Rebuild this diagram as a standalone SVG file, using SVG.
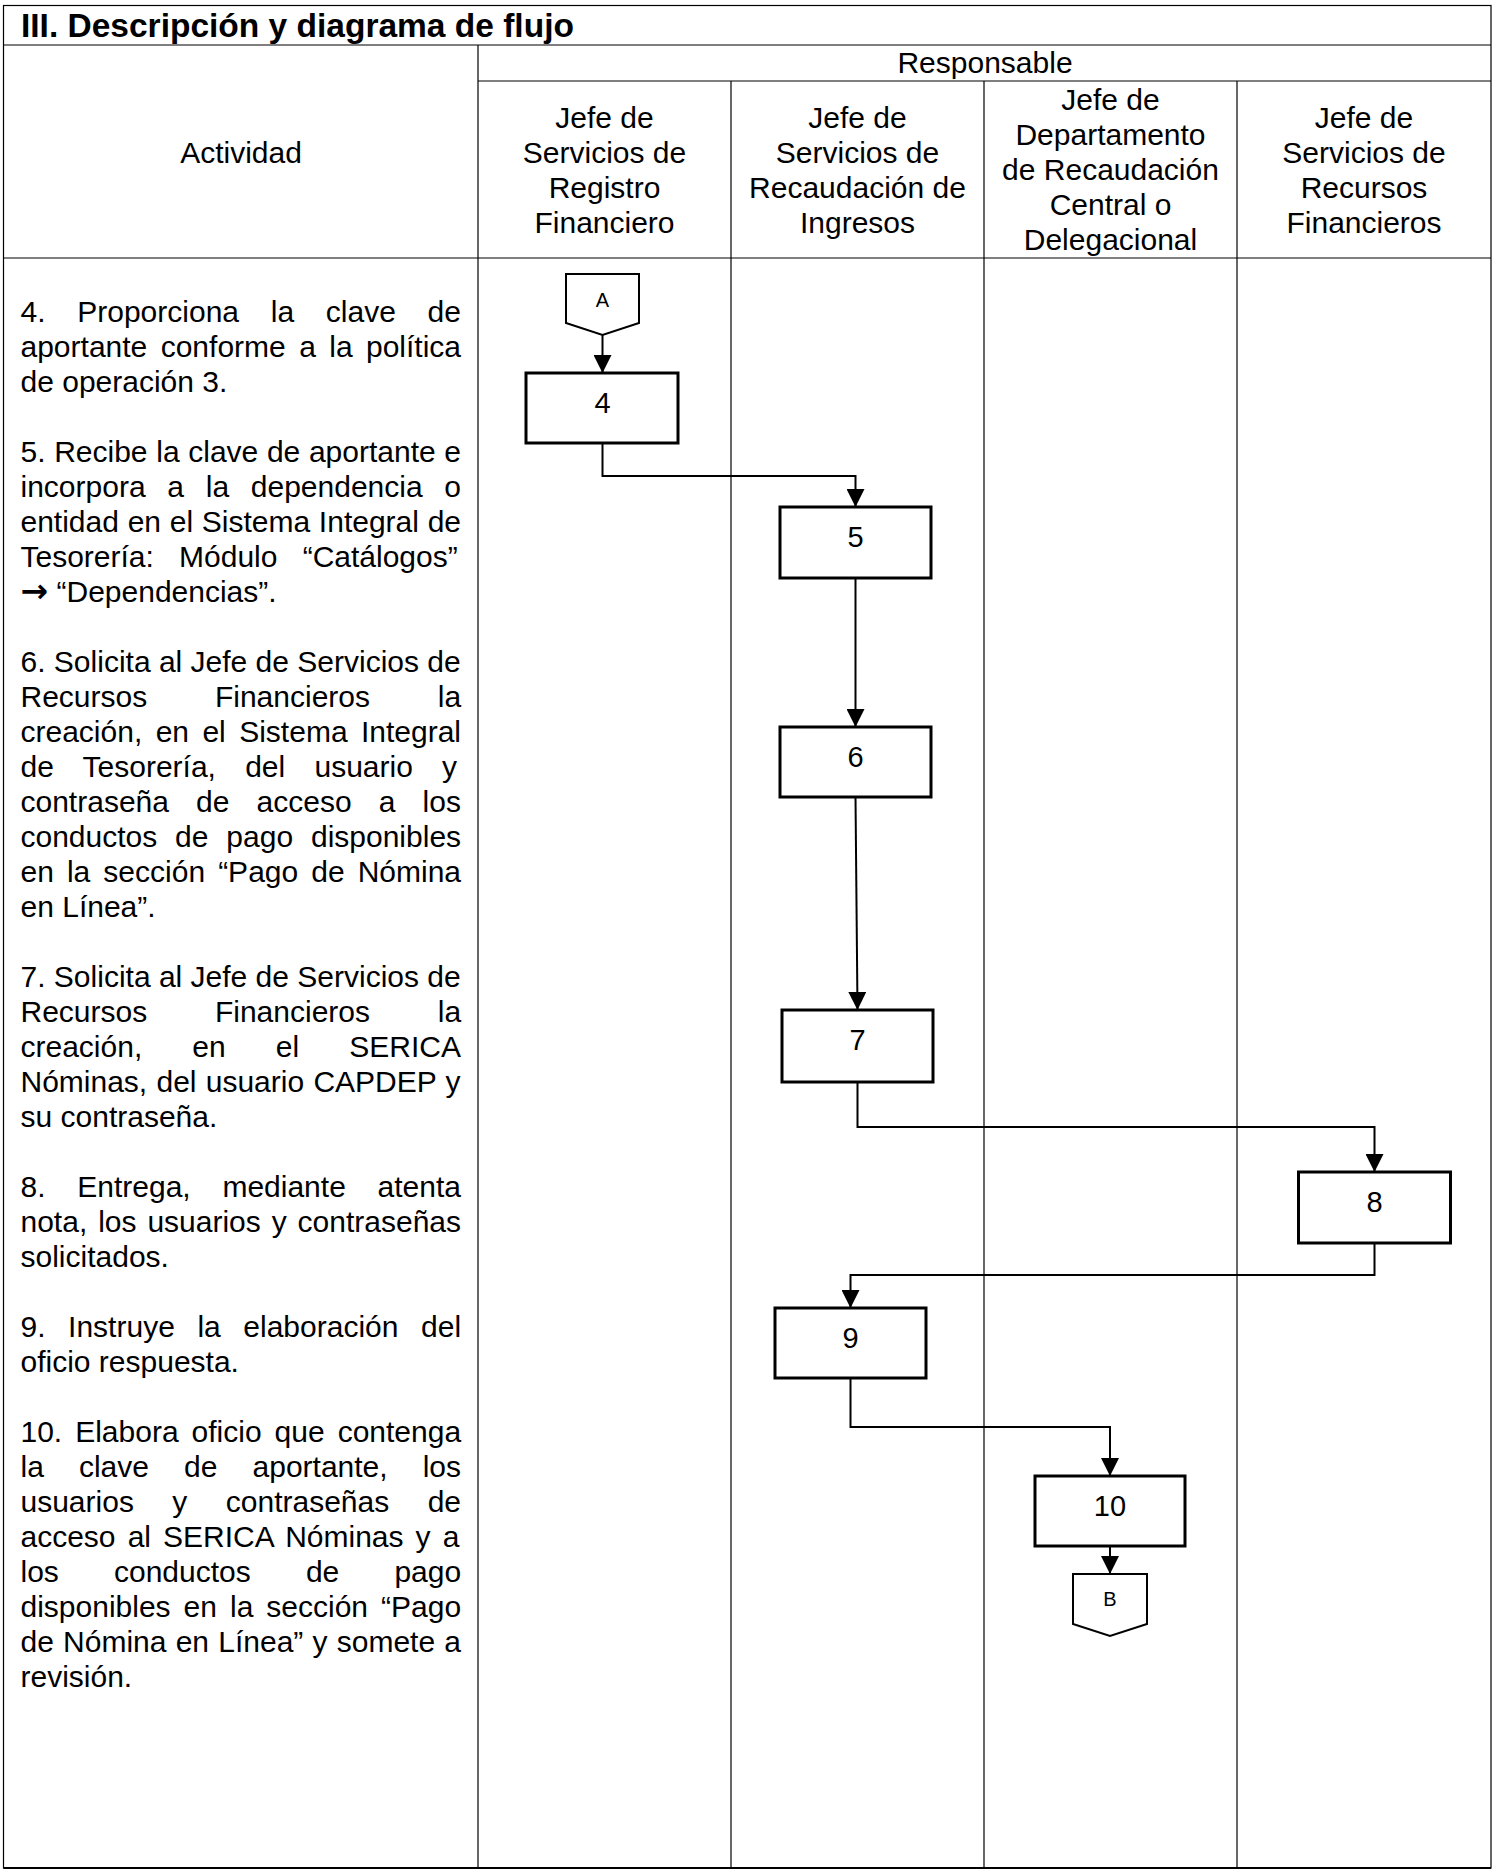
<svg xmlns="http://www.w3.org/2000/svg" width="1495" height="1874" viewBox="0 0 1495 1874">
<style>
text{font-family:"Liberation Sans",Arial,sans-serif;fill:#000}
.t{font-size:30px}
.c{font-size:30px;text-anchor:middle}
.ttl{font-size:33.5px;font-weight:bold}
.n{font-size:29px;text-anchor:middle}
.k{font-size:20px;text-anchor:middle}
.g{stroke:#000;stroke-width:1.2;fill:none}
.box{fill:#fff;stroke:#000;stroke-width:3}
.off{fill:#fff;stroke:#000;stroke-width:2}
.cn{fill:none;stroke:#000;stroke-width:2;marker-end:url(#ah)}
</style>
<defs>
<marker id="ah" markerUnits="userSpaceOnUse" markerWidth="18" markerHeight="18" viewBox="0 0 18 18" refX="18" refY="9" orient="auto">
<path d="M0,0 L18,9 L0,18 z" fill="#000"/>
</marker>
</defs>
<rect width="1495" height="1874" fill="#fff"/>
<g id="table">
<rect class="g" x="3.5" y="5.5" width="1487.5" height="1862.5"/>
<line class="g" x1="3.5" y1="45" x2="1491" y2="45"/>
<line class="g" x1="478" y1="45" x2="478" y2="1868"/>
<line class="g" x1="478" y1="81" x2="1491" y2="81"/>
<line class="g" x1="731" y1="81" x2="731" y2="1868"/>
<line class="g" x1="984" y1="81" x2="984" y2="1868"/>
<line class="g" x1="1237" y1="81" x2="1237" y2="1868"/>
<line class="g" x1="3.5" y1="258" x2="1491" y2="258"/>
<line x1="3.5" y1="1868" x2="1491" y2="1868" stroke="#000" stroke-width="2.2"/>
<text class="ttl" x="21" y="37">III. Descripción y diagrama de flujo</text>
<text class="c" x="985" y="73">Responsable</text>
<text class="c" x="241" y="163">Actividad</text>
<text class="c" x="604.5" y="128">Jefe de</text>
<text class="c" x="604.5" y="163">Servicios de</text>
<text class="c" x="604.5" y="198">Registro</text>
<text class="c" x="604.5" y="233">Financiero</text>
<text class="c" x="857.5" y="128">Jefe de</text>
<text class="c" x="857.5" y="163">Servicios de</text>
<text class="c" x="857.5" y="198">Recaudación de</text>
<text class="c" x="857.5" y="233">Ingresos</text>
<text class="c" x="1110.5" y="110">Jefe de</text>
<text class="c" x="1110.5" y="145">Departamento</text>
<text class="c" x="1110.5" y="180">de Recaudación</text>
<text class="c" x="1110.5" y="215">Central o</text>
<text class="c" x="1110.5" y="250">Delegacional</text>
<text class="c" x="1364" y="128">Jefe de</text>
<text class="c" x="1364" y="163">Servicios de</text>
<text class="c" x="1364" y="198">Recursos</text>
<text class="c" x="1364" y="233">Financieros</text>
</g>
<g id="actividades">
<text class="t" x="20.5" y="322" word-spacing="23.4">4. Proporciona la clave de</text>
<text class="t" x="20.5" y="357" word-spacing="5.07">aportante conforme a la política</text>
<text class="t" x="20.5" y="392">de operación 3.</text>
<text class="t" x="20.5" y="462" word-spacing="0.32">5. Recibe la clave de aportante e</text>
<text class="t" x="20.5" y="497" word-spacing="13.4">incorpora a la dependencia o</text>
<text class="t" x="20.5" y="532" word-spacing="0.38">entidad en el Sistema Integral de</text>
<text class="t" x="20.5" y="567" word-spacing="16.85">Tesorería: Módulo “Catálogos”</text>
<text class="t" x="20.5" y="602"><tspan font-family="'DejaVu Sans',sans-serif" font-size="33" font-weight="bold">→</tspan> “Dependencias”.</text>
<text class="t" x="20.5" y="672">6. Solicita al Jefe de Servicios de</text>
<text class="t" x="20.5" y="707" word-spacing="59.4">Recursos Financieros la</text>
<text class="t" x="20.5" y="742" word-spacing="5.08">creación, en el Sistema Integral</text>
<text class="t" x="20.5" y="777" word-spacing="20.9">de Tesorería, del usuario y</text>
<text class="t" x="20.5" y="812" word-spacing="18.8">contraseña de acceso a los</text>
<text class="t" x="20.5" y="847" word-spacing="9.53">conductos de pago disponibles</text>
<text class="t" x="20.5" y="882" word-spacing="4.73">en la sección “Pago de Nómina</text>
<text class="t" x="20.5" y="917">en Línea”.</text>
<text class="t" x="20.5" y="987">7. Solicita al Jefe de Servicios de</text>
<text class="t" x="20.5" y="1022" word-spacing="59.4">Recursos Financieros la</text>
<text class="t" x="20.5" y="1057" word-spacing="41.8">creación, en el SERICA</text>
<text class="t" x="20.5" y="1092" word-spacing="0.92">Nóminas, del usuario CAPDEP y</text>
<text class="t" x="20.5" y="1127">su contraseña.</text>
<text class="t" x="20.5" y="1197" word-spacing="23.4">8. Entrega, mediante atenta</text>
<text class="t" x="20.5" y="1232" word-spacing="2.57">nota, los usuarios y contraseñas</text>
<text class="t" x="20.5" y="1267">solicitados.</text>
<text class="t" x="20.5" y="1337" word-spacing="14.25">9. Instruye la elaboración del</text>
<text class="t" x="20.5" y="1372">oficio respuesta.</text>
<text class="t" x="20.5" y="1442" word-spacing="4.65">10. Elabora oficio que contenga</text>
<text class="t" x="20.5" y="1477" word-spacing="26.75">la clave de aportante, los</text>
<text class="t" x="20.5" y="1512" word-spacing="30.1">usuarios y contraseñas de</text>
<text class="t" x="20.5" y="1547" word-spacing="3.74">acceso al SERICA Nóminas y a</text>
<text class="t" x="20.5" y="1582" word-spacing="46.8">los conductos de pago</text>
<text class="t" x="20.5" y="1617" word-spacing="4.66">disponibles en la sección “Pago</text>
<text class="t" x="20.5" y="1652" word-spacing="0.88">de Nómina en Línea” y somete a</text>
<text class="t" x="20.5" y="1687">revisión.</text>
</g>
<g id="connectors">
<path class="cn" d="M602.5,335 V373"/>
<path class="cn" d="M602.5,443 V476 H855.5 V507"/>
<path class="cn" d="M855.5,578 V727"/>
<path class="cn" d="M855.5,797 L857.5,1010"/>
<path class="cn" d="M857.5,1082 V1127 H1374.5 V1172"/>
<path class="cn" d="M1374.5,1243 V1275 H850.5 V1308"/>
<path class="cn" d="M850.5,1378 V1427 H1110 V1476"/>
<path class="cn" d="M1110,1546 V1574"/>
</g>
<g id="node-A">
<polygon class="off" points="566,274 639,274 639,323 602.5,335 566,323"/>
<text class="k" x="602.5" y="307">A</text>
</g>
<g id="node-4">
<rect class="box" x="526" y="373" width="152" height="70"/>
<text class="n" x="602.5" y="413">4</text>
</g>
<g id="node-5">
<rect class="box" x="780" y="507" width="151" height="71"/>
<text class="n" x="855.5" y="547">5</text>
</g>
<g id="node-6">
<rect class="box" x="780" y="727" width="151" height="70"/>
<text class="n" x="855.5" y="767">6</text>
</g>
<g id="node-7">
<rect class="box" x="782" y="1010" width="151" height="72"/>
<text class="n" x="857.5" y="1050">7</text>
</g>
<g id="node-8">
<rect class="box" x="1298.5" y="1172" width="152" height="71"/>
<text class="n" x="1374.5" y="1212">8</text>
</g>
<g id="node-9">
<rect class="box" x="775" y="1308" width="151" height="70"/>
<text class="n" x="850.5" y="1348">9</text>
</g>
<g id="node-10">
<rect class="box" x="1035" y="1476" width="150" height="70"/>
<text class="n" x="1110" y="1516">10</text>
</g>
<g id="node-B">
<polygon class="off" points="1073,1574 1147,1574 1147,1624 1110,1636 1073,1624"/>
<text class="k" x="1110" y="1606">B</text>
</g>
</svg>
